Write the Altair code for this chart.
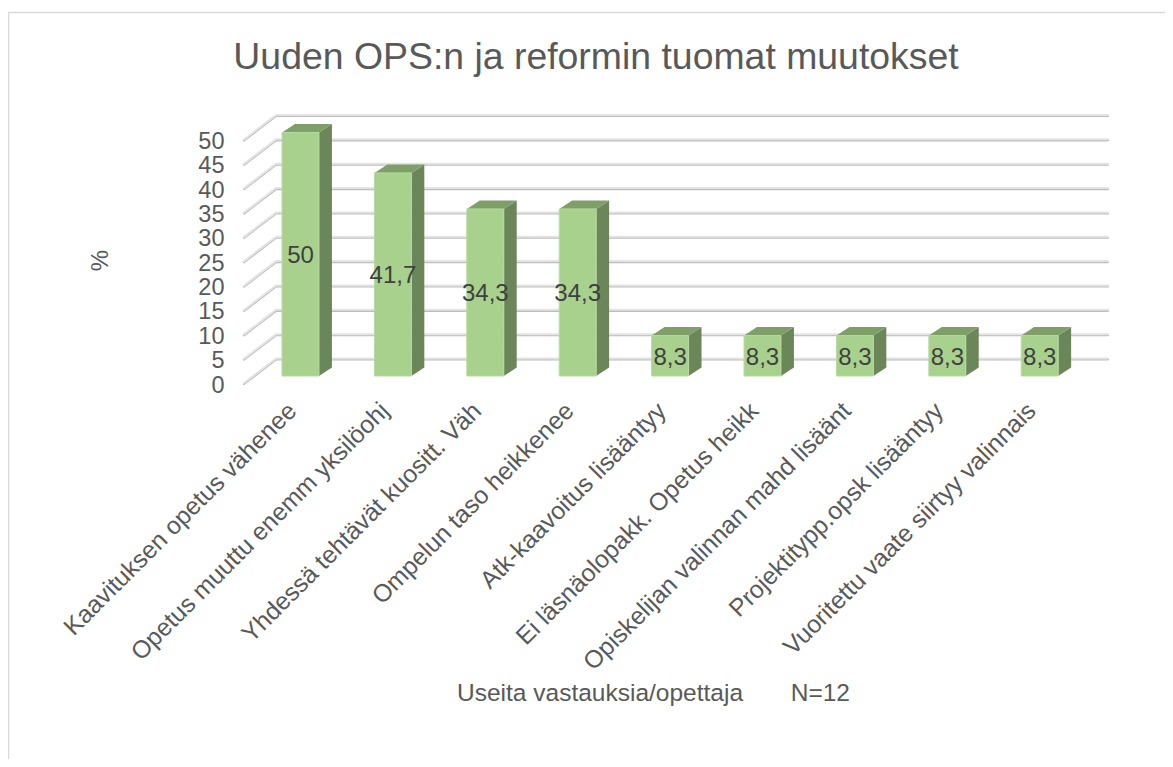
import altair as alt
import pandas as pd

categories = ["Kaavituksen opetus vähenee", "Opetus muuttu enemm yksilöohj", "Yhdessä tehtävät kuositt. Väh",
              "Ompelun taso heikkenee", "Atk-kaavoitus lisääntyy", "Ei läsnäolopakk. Opetus heikk",
              "Opiskelijan valinnan mahd lisäänt", "Projektitypp.opsk lisääntyy", "Vuoritettu vaate siirtyy valinnais"]
values = [50, 41.7, 34.3, 34.3, 8.3, 8.3, 8.3, 8.3, 8.3]
labels = ["50", "41,7", "34,3", "34,3", "8,3", "8,3", "8,3", "8,3", "8,3"]
ticks = list(range(0, 55, 5))

# 3D projection constants, in data units
XMIN, XMAX = -0.6115, 8.739
YMAX = 55.03
WALL_X = -0.265      # back wall start
WALL_Y = 5.03        # rise from front to back
HALF = 0.2           # half bar width
DX, DY = 0.14, 1.75  # bar depth
BASE = 1.44          # bar base above front zero

FONT = "Liberation Sans"

label_expr = "[" + ",".join('"%s"' % c for c in categories) + "][datum.value]"

x_axis = alt.Axis(values=list(range(9)), labelExpr=label_expr, labelAngle=-45, labelAlign="right",
                  labelBaseline="middle", labelFont=FONT, labelFontSize=24.7, labelColor="#595959",
                  labelPadding=24, labelOffset=-8, labelOverlap=False, labelLimit=0, labelBound=False,
                  labelFlush=False, domain=False, ticks=False, grid=False,
                  title="Useita vastauksia/opettaja" + "\u00a0" * 7 + "N=12", titleFont=FONT, titleFontSize=24.5,
                  titleColor="#595959", titleFontWeight="normal", titleX=409, titleY=310,
                  titleAlign="center", titleBaseline="middle")
y_axis = alt.Axis(values=ticks, labelFont=FONT, labelFontSize=23.5, labelColor="#595959", labelPadding=20,
                  labelOffset=2, labelOverlap=False, labelBound=False, labelFlush=False,
                  domain=False, ticks=False, grid=False, title="%", titleFont=FONT, titleFontSize=24,
                  titleColor="#595959", titleFontWeight="normal", titleX=-144, titleY=145,
                  titleAlign="center", titleBaseline="middle", titleAngle=-90)

xs = alt.Scale(domain=[XMIN, XMAX], nice=False, zero=False)
ys = alt.Scale(domain=[0, YMAX], nice=False, zero=False)
X = lambda f="x": alt.X(f + ":Q", scale=xs, axis=x_axis)
Y = lambda f="y": alt.Y(f + ":Q", scale=ys, axis=y_axis)

frame = alt.Chart(pd.DataFrame({"a": [0]})).mark_rect(fill="transparent", stroke="#d9d9d9", strokeWidth=1.5).encode(
    x=alt.value(-235.5), x2=alt.value(1150), y=alt.value(-102.5), y2=alt.value(800))

wall_rows = []
for t in ticks:
    wall_rows.append({"t": t, "x": XMIN, "y": t})
    wall_rows.append({"t": t, "x": WALL_X, "y": t + WALL_Y})
    wall_rows.append({"t": t, "x": XMAX, "y": t + WALL_Y})
wall = pd.DataFrame(wall_rows)
shadow = pd.DataFrame([{**r, "y": r["y"] - 0.2} for r in wall_rows])

grid_shadow = alt.Chart(shadow).mark_line(color="#bdbdbd", strokeWidth=2.2, strokeCap="round", clip=False).encode(
    x=X(), y=Y(), detail="t:N", order="x:Q")
grid = alt.Chart(wall).mark_line(color="#e4e4e4", strokeWidth=2, strokeCap="round", clip=False).encode(
    x=X(), y=Y(), detail="t:N", order="x:Q")

side_rows, top_rows, front_rows, text_rows = [], [], [], []
for i, (v, l) in enumerate(zip(values, labels)):
    x1 = i + HALF
    side_rows += [{"i": i, "x": x1, "y": BASE, "y2": BASE + v},
                  {"i": i, "x": x1 + DX, "y": BASE + DY, "y2": BASE + v + DY}]
    top_rows += [{"i": i, "y": BASE + v, "x": i - HALF, "x2": x1},
                 {"i": i, "y": BASE + v + DY, "x": i - HALF + DX, "x2": x1 + DX}]
    front_rows.append({"i": i, "x": i - HALF, "x2": x1, "y": BASE, "y2": BASE + v})
    text_rows.append({"x": i, "y": BASE + v / 2, "l": l})

side = alt.Chart(pd.DataFrame(side_rows)).mark_area(color="#6b875a", orient="vertical", clip=False).encode(
    x=X(), y=Y(), y2="y2:Q", detail="i:N")
top = alt.Chart(pd.DataFrame(top_rows)).mark_area(color="#7ea068", orient="horizontal", clip=False).encode(
    y=Y(), x=X(), x2="x2:Q", detail="i:N")
front = alt.Chart(pd.DataFrame(front_rows)).mark_rect(fill="#a9d18e", stroke="#b7d9a0", strokeWidth=1, clip=False).encode(
    x=X(), x2="x2:Q", y=Y(), y2="y2:Q")
text = alt.Chart(pd.DataFrame(text_rows)).mark_text(font=FONT, fontSize=24, color="#404040", clip=False, dy=2).encode(
    x=X(), y=Y(), text="l:N")

chart = alt.layer(frame, grid_shadow, grid, side, top, front, text).properties(
    width=864, height=268,
    padding={"left": 236, "top": 107, "right": 57, "bottom": 376},
    autosize=alt.AutoSizeParams(type="none"),
    title=alt.TitleParams("Uuden OPS:n ja reformin tuomat muutokset", font=FONT, fontSize=37.4, fontWeight="normal",
                          color="#595959", anchor="middle", dx=-80, offset=-65),
).configure_view(stroke=None)

chart.save("out.html", embed_options={"renderer": "svg", "actions": False})
